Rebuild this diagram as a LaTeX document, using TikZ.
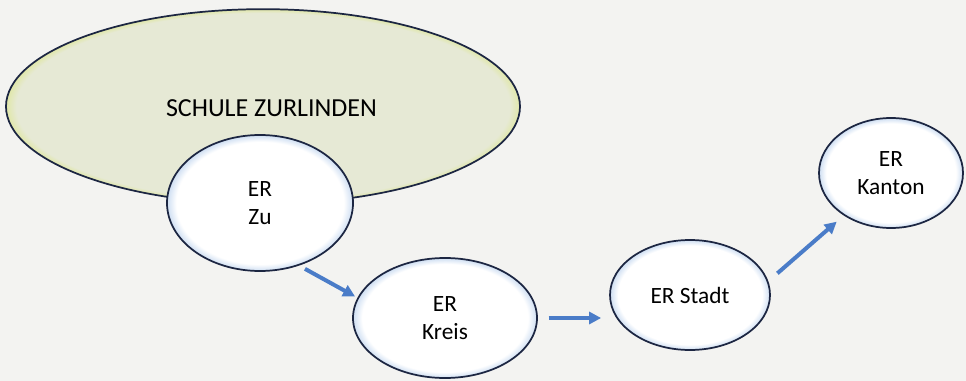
\documentclass[tikz,border=0pt]{standalone}
\usepackage{fontspec}
\setmainfont{Carlito}
\usepackage{xcolor}
\usepackage{tikz}
\usetikzlibrary{
	arrows.meta,
	calc,
	positioning,
	shapes.geometric
}
\definecolor{PaperGray}{RGB}{243,243,241}
\definecolor{SchoolFill}{RGB}{230,233,213}
\definecolor{SchoolGlow}{RGB}{224,231,168}
\definecolor{EdgeNavy}{RGB}{28,38,66}
\definecolor{GlowBlue}{RGB}{206,222,242}
\definecolor{ArrowBlue}{RGB}{74,124,200}
\pgfdeclareradialshading{erglow}{\pgfpoint{0cm}{0cm}}{color(0bp)=(white); color(22.5bp)=(white); color(25bp)=(GlowBlue); color(50bp)=(GlowBlue)}
\pgfdeclareradialshading{schoolglow}{\pgfpoint{0cm}{0cm}}{color(0bp)=(SchoolFill); color(24bp)=(SchoolFill); color(25bp)=(SchoolGlow); color(50bp)=(SchoolGlow)}

\begin{document}
\begin{tikzpicture}[x=0.75pt, y=-0.75pt,
		font=\fontsize{17.5}{21}\selectfont,
		erbox/.style={ellipse, draw=EdgeNavy, line width=1.3pt, shading=erglow, inner sep=0pt, align=center},
		flow/.style={-{Triangle[length=9pt,width=9pt]}, ArrowBlue, line width=3pt}]
			\fill[PaperGray] (0,0) rectangle (966,381);
			\useasboundingbox (0,0) rectangle (966,381);
			\node[ellipse, draw=EdgeNavy, line width=1.3pt, shading=schoolglow, minimum width=385.5pt, minimum height=146pt] (schule) at (263,106.5) {};
			\node[font=\fontsize{19.5}{23}\selectfont] at (271.5,108.5) {SCHULE ZURLINDEN};
			\node[erbox, minimum width=139.5pt, minimum height=102pt] (zu) at (260,203) {ER\\Zu};
			\node[erbox, minimum width=138pt, minimum height=90pt] (kreis) at (445,318) {ER\\Kreis};
			\node[erbox, minimum width=120pt, minimum height=82.5pt] (stadt) at (690,295) {ER Stadt};
			\node[erbox, minimum width=108pt, minimum height=82.5pt] (kanton) at (891,173) {ER\\Kanton};
			\draw[flow, shorten <=5pt, shorten >=2pt] (zu.-58) -- (kreis.167);
			\draw[flow, shorten <=8pt, shorten >=6pt] (kreis.east) -- (kreis.east -| stadt.west);
			\draw[flow, shorten <=9pt, shorten >=7pt] (stadt.10) -- (kanton.-138);
		\end{tikzpicture}
\end{document}
